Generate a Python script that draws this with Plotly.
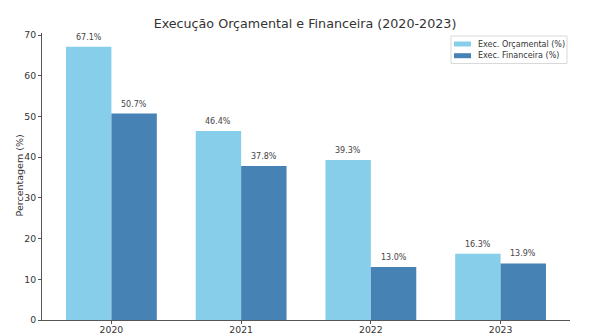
import plotly.graph_objects as go

anos = ["2020", "2021", "2022", "2023"]
exec_orcamental = [67.1, 46.4, 39.3, 16.3]
exec_financeira = [50.7, 37.8, 13.0, 13.9]
y_ticks = [0, 10, 20, 30, 40, 50, 60, 70]
nomes = ["Exec. Orçamental (%)", "Exec. Financeira (%)"]

cor_orc = "#87CEEB"
cor_fin = "#4682B4"
fonte = "DejaVu Sans"
posicoes = list(range(len(anos)))
largura = 0.35

W, H = 606, 336
ML, MR, MT, MB = 42, 36, 33, 16
PW, PH = W - ML - MR, H - MT - MB


def px_x(px):
    return (px - ML) / PW


def px_y(py):
    return (H - MB - py) / PH


fig = go.Figure()
for serie, desloc, cor, nome in ((exec_orcamental, -largura / 2, cor_orc, nomes[0]),
                                  (exec_financeira, largura / 2, cor_fin, nomes[1])):
    fig.add_trace(go.Bar(
        x=[p + desloc for p in posicoes], y=serie, width=largura,
        name=nome, marker=dict(color=cor, line=dict(width=0)), showlegend=False,
    ))

anotacoes = []
for serie, desloc in ((exec_orcamental, -largura / 2), (exec_financeira, largura / 2)):
    for p, v in zip(posicoes, serie):
        anotacoes.append(dict(
            x=p + desloc, y=v, xref="x", yref="y", text=f"{v:.1f}%",
            showarrow=False, yanchor="bottom", yshift=3,
            font=dict(family=fonte, size=8, color="#444444"),
        ))

# legend box drawn in paper coordinates
formas = [dict(type="rect", xref="paper", yref="paper",
               x0=px_x(451), x1=px_x(567), y0=px_y(63.5), y1=px_y(36),
               line=dict(color="#d9d9d9", width=1), fillcolor="white", layer="above")]
for i, (cor, nome) in enumerate(((cor_orc, nomes[0]), (cor_fin, nomes[1]))):
    cy = 44 + i * 11.7
    formas.append(dict(type="rect", xref="paper", yref="paper",
                       x0=px_x(454), x1=px_x(471), y0=px_y(cy + 2.5), y1=px_y(cy - 2.5),
                       line=dict(width=0), fillcolor=cor, layer="above"))
    anotacoes.append(dict(x=px_x(476), y=px_y(cy), xref="paper", yref="paper",
                          text=nome, showarrow=False, xanchor="left", yanchor="middle",
                          font=dict(family=fonte, size=8, color="#333333")))

# y-axis title
anotacoes.append(dict(x=px_x(18.5), y=px_y(176), xref="paper", yref="paper",
                      text="Percentagem (%)", showarrow=False, textangle=-90,
                      xanchor="center", yanchor="middle",
                      font=dict(family=fonte, size=9.5, color="#333333")))

fig.update_layout(
    width=W, height=H,
    margin=dict(l=ML, r=MR, t=MT, b=MB),
    paper_bgcolor="white", plot_bgcolor="white",
    barmode="overlay",
    title=dict(text="Execução Orçamental e Financeira (2020-2023)",
               x=(305 / W), xanchor="center", y=1 - 24 / H, yanchor="middle",
               font=dict(family=fonte, size=12.7, color="#333333")),
    font=dict(family=fonte, color="#333333"),
    showlegend=False,
    annotations=anotacoes,
    shapes=formas,
)
fig.update_xaxes(
    range=[-0.535, 3.535], tickvals=posicoes, ticktext=anos, automargin=False,
    showgrid=False, zeroline=False, showline=True, linecolor="#555555", linewidth=1,
    ticks="outside", ticklen=3, tickcolor="#555555", ticklabelstandoff=-2,
    tickfont=dict(family=fonte, size=9.3, color="#333333"),
)
fig.update_yaxes(
    range=[0, 70.5], tickvals=y_ticks, automargin=False,
    showgrid=False, zeroline=False, showline=True, linecolor="#555555", linewidth=1,
    ticks="outside", ticklen=3, tickcolor="#555555",
    tickfont=dict(family=fonte, size=9.3, color="#333333"),
)

fig.write_html("out.html")
